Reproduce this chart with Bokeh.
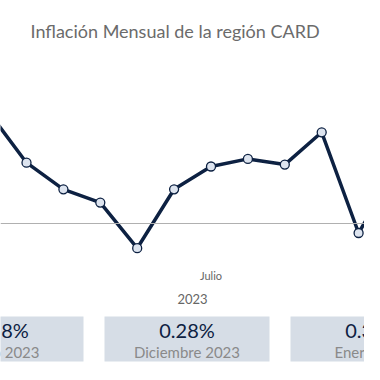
from bokeh.plotting import figure
from bokeh.models import Range1d, Span, ColumnDataSource
from bokeh.core.properties import value
from bokeh.embed import file_html
from bokeh.resources import INLINE

# ---- data ----
months = ["Enero", "Febrero", "Marzo", "Abril", "Mayo", "Junio", "Julio",
          "Agosto", "Septiembre", "Octubre", "Noviembre", "Diciembre"]
year = "2023"
inflation = [0.58, 0.32, 0.18, 0.11, -0.13, 0.18, 0.30, 0.34, 0.31, 0.48, -0.05, 0.28]
shown_ticks = ["Julio"]
card_values = ["0.58%", "0.28%", "0.39%"]
card_labels = ["Enero 2023", "Diciembre 2023", "Enero 2024"]
title = "Inflación Mensual de la región CARD"

# ---- layout helpers (pixel -> data) ----
W, H = 364, 364
PX_PER_MONTH = 36.9
X_OFF = -10.9          # pixel x of month 1
Y_ZERO = 223.0         # pixel y of value 0
PX_PER_UNIT = 190.0

def px2x(px):
    return 1 + (px - X_OFF) / PX_PER_MONTH

def py2y(py):
    return (Y_ZERO - py) / PX_PER_UNIT

FONT = "Lato"
NAVY = "#0d2142"

x = list(range(1, len(months) + 1))

p = figure(width=W, height=H, output_backend="svg", toolbar_location=None,
           x_range=Range1d(px2x(0), px2x(W)), y_range=Range1d(py2y(H), py2y(0)),
           x_axis_type=None, y_axis_type=None, min_border=0,
           outline_line_color=None, background_fill_color="white",
           border_fill_color="white")
p.grid.visible = False

# cards
card_w, card_gap = 165, 21
card_left0 = -82
card_lefts = [card_left0 + i * (card_w + card_gap) for i in range(len(card_values))]
p.quad(left=[px2x(l) for l in card_lefts], right=[px2x(l + card_w) for l in card_lefts],
       top=[py2y(316)] * len(card_lefts), bottom=[py2y(361)] * len(card_lefts),
       fill_color="#d6dde6", line_color=None)
centers = [px2x(l + card_w / 2) for l in card_lefts]
p.text(x=centers, y=[py2y(329)] * len(centers), text=card_values,
       text_font=value(FONT), text_font_size="20px", text_color=NAVY,
       text_align="center", text_baseline="middle")
p.text(x=centers, y=[py2y(351.5)] * len(centers), text=card_labels,
       text_font=value(FONT), text_font_size="15px", text_color="#8a8a8a",
       text_align="center", text_baseline="middle")

# zero line
p.add_layout(Span(location=0, dimension="width", line_color="#b0b0b0", line_width=1))

# series
src = ColumnDataSource(dict(x=x, y=inflation))
p.line("x", "y", source=src, line_color=NAVY, line_width=3.5)
p.scatter("x", "y", source=src, size=9, fill_color="#dde4ef", line_color=NAVY, line_width=1.3)

# x labels
tick_x = [months.index(m) + 1 for m in shown_ticks]
p.text(x=tick_x, y=[py2y(275)] * len(tick_x), text=shown_ticks,
       text_font=value(FONT), text_font_size="11px", text_color="#666666",
       text_align="center", text_baseline="middle")
p.text(x=[(1 + len(months)) / 2], y=[py2y(298)], text=[year],
       text_font=value(FONT), text_font_size="13px", text_color="#666666",
       text_align="center", text_baseline="middle")

# title
p.text(x=[px2x(30)], y=[py2y(30)], text=[title],
       text_font=value(FONT), text_font_size="18px", text_color="#6b6b6b",
       text_align="left", text_baseline="middle")

open("out.html", "w").write(file_html(p, INLINE))
